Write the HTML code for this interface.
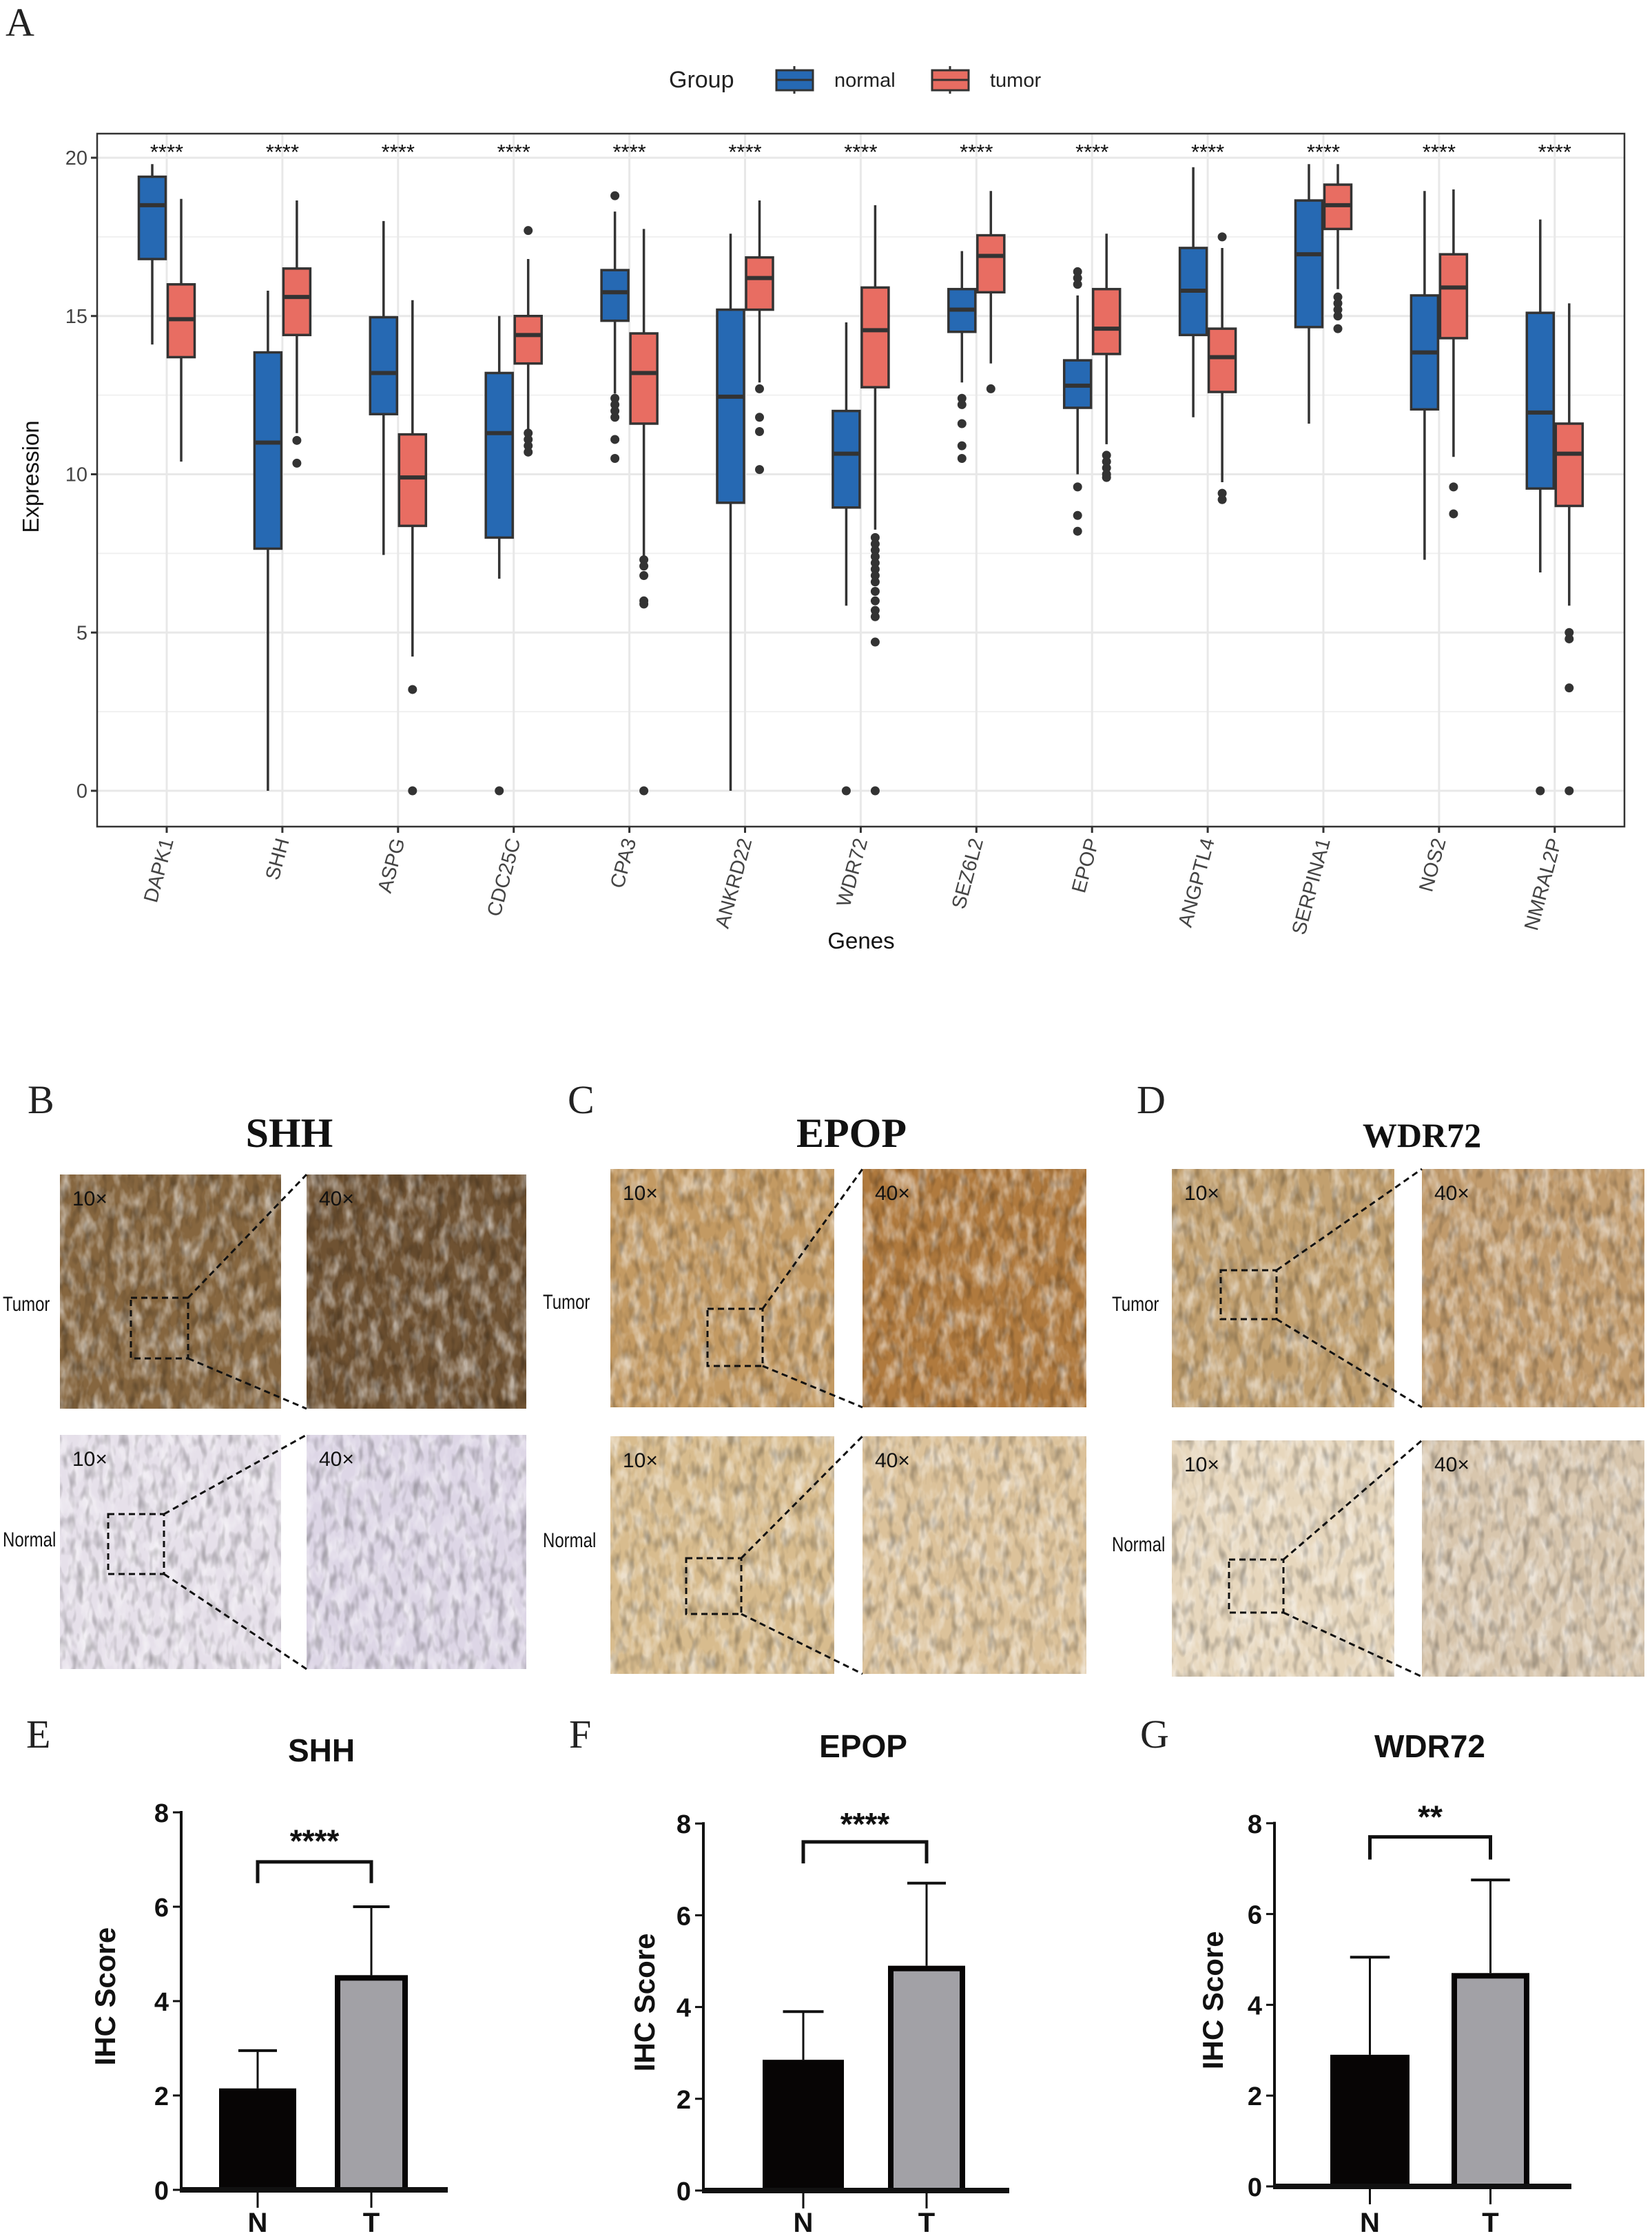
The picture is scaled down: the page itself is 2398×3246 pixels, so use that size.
<!DOCTYPE html>
<html><head><meta charset="utf-8"><style>
html,body{margin:0;padding:0;background:#fff;}
svg{display:block;}
text{font-family:"Liberation Sans",Arial,sans-serif;}
.serif{font-family:"Liberation Serif",serif;}
.cond{font-family:"Liberation Sans Narrow","Liberation Sans",sans-serif;}
</style></head><body>
<svg id="fig" width="2398" height="3246" viewBox="0 0 2398 3246" xmlns="http://www.w3.org/2000/svg">
<defs>
<filter id="tex" x="0" y="0" width="100%" height="100%">
<feTurbulence type="fractalNoise" baseFrequency="0.06 0.03" numOctaves="3" seed="3" result="n"/>
<feColorMatrix in="n" type="matrix" values="0 0 0 0 0  0 0 0 0 0  0 0 0 0 0  0 0 0 -2.2 1.3" result="a"/>
<feFlood flood-color="#ffffff"/>
<feComposite in2="a" operator="in"/>
</filter>
<filter id="tex2" x="0" y="0" width="100%" height="100%">
<feTurbulence type="fractalNoise" baseFrequency="0.09 0.04" numOctaves="2" seed="8" result="n"/>
<feColorMatrix in="n" type="matrix" values="0 0 0 0 0  0 0 0 0 0  0 0 0 0 0  0 0 0 2.6 -1.2" result="a"/>
<feFlood flood-color="#000000"/>
<feComposite in2="a" operator="in"/>
</filter>
</defs>
</svg>
<script>
// ===== Panel A data =====
const genes = ["DAPK1","SHH","ASPG","CDC25C","CPA3","ANKRD22","WDR72","SEZ6L2","EPOP","ANGPTL4","SERPINA1","NOS2","NMRAL2P"];
// [low whisker, Q1, median, Q3, high whisker]
const normalStats = [
 [14.1,16.8,18.5,19.4,19.8],[0,7.65,11.0,13.85,15.8],[7.45,11.9,13.2,14.96,18.0],[6.7,8.0,11.3,13.2,15.0],
 [12.55,14.85,15.75,16.45,18.3],[0,9.1,12.45,15.2,17.6],[5.85,8.95,10.65,12.0,14.8],[12.9,14.5,15.2,15.85,17.05],
 [10.0,12.1,12.8,13.6,15.65],[11.8,14.4,15.8,17.15,19.7],[11.6,14.65,16.95,18.65,19.8],[7.3,12.05,13.85,15.65,18.95],
 [6.9,9.55,11.95,15.1,18.05]];
const tumorStats = [
 [10.4,13.7,14.9,16.0,18.7],[11.3,14.4,15.6,16.5,18.65],[4.24,8.37,9.9,11.26,15.5],[11.4,13.5,14.4,15.0,16.8],
 [7.4,11.6,13.2,14.45,17.75],[12.9,15.2,16.2,16.85,18.65],[8.25,12.75,14.55,15.9,18.5],[13.5,15.75,16.9,17.55,18.95],
 [10.95,13.8,14.6,15.85,17.6],[9.75,12.6,13.7,14.6,17.15],[15.85,17.75,18.5,19.15,19.8],[10.55,14.3,15.9,16.95,19.0],
 [5.85,9.0,10.65,11.6,15.4]];
const normalOutliers = [[],[],[],[0],[18.8,12.4,12.2,12.0,11.8,11.1,10.5],[],[0],[12.4,12.2,11.6,10.9,10.5],
 [16.4,16.2,16.0,9.6,8.7,8.2],[],[],[],[0]];
const tumorOutliers = [[],[11.07,10.35],[3.2,0],[17.7,11.3,11.1,10.9,10.7],[7.3,7.1,6.8,6.0,5.9,0],[12.7,11.8,11.35,10.15],
 [8.0,7.8,7.6,7.4,7.2,7.0,6.8,6.6,6.3,6.0,5.7,5.5,4.7,0],[12.7],[10.6,10.4,10.2,10.0,9.9],[17.5,9.4,9.2],
 [15.6,15.4,15.2,15.0,14.6],[9.6,8.75],[5.0,4.8,3.25,0]];
const sigLabels = ["****","****","****","****","****","****","****","****","****","****","****","****","****"];
const yTicksA = [0,5,10,15,20];

// ===== Panels E-G data =====
const ihcGenes = ["SHH","EPOP","WDR72"];
const ihcGroups = ["N","T"];
const ihcMeans = [[2.15,4.55],[2.85,4.9],[2.9,4.7]];
const ihcErr = [[2.95,6.0],[3.9,6.7],[5.05,6.75]];
const ihcSig = ["****","****","**"];
const ihcTicks = [0,2,4,6,8];

const NS="http://www.w3.org/2000/svg";
const svg=document.getElementById('fig');
function el(tag,attrs,parent,txt){const e=document.createElementNS(NS,tag);for(const k in attrs)e.setAttribute(k,attrs[k]);if(txt!==undefined)e.textContent=txt;(parent||svg).appendChild(e);return e;}

// ---------- Panel A ----------
const A={l:141,r:2358,t:194,b:1200};
const yA=v=>1148-(v)*45.95;
const xG=i=>242+i*167.9;
const gA=el('g',{});


let t=el('text',{x:8,y:52,'font-size':58,class:'serif',fill:'#222'},gA,'A');

const lg=el('g',{},gA);

el('text',{x:971,y:127,'font-size':34,fill:'#222'},lg,'Group');
[[1127,'#2669B3','normal',1211],[1353,'#E86D62','tumor',1437]].forEach(([x,c,l,tx])=>{
  const it=el('g',{},lg);
  
  el('line',{x1:x+26,x2:x+26,y1:96,y2:136,stroke:'#333','stroke-width':3},it);
  el('rect',{x:x,y:102,width:53,height:29,fill:c,stroke:'#333','stroke-width':3},it);
  el('line',{x1:x,x2:x+53,y1:116,y2:116,stroke:'#333','stroke-width':3},it);
  el('text',{x:tx,y:126,'font-size':29,fill:'#222'},it,l);
});
el('rect',{x:A.l,y:A.t,width:A.r-A.l,height:A.b-A.t,fill:'#fff'},gA);
for(let v=2.5;v<=20;v+=5){el('line',{x1:A.l,x2:A.r,y1:yA(v),y2:yA(v),stroke:'#f0f0f0','stroke-width':2},gA);}
yTicksA.forEach(v=>{el('line',{x1:A.l,x2:A.r,y1:yA(v),y2:yA(v),stroke:'#e8e8e8','stroke-width':3},gA);});
genes.forEach((g,i)=>{el('line',{x1:xG(i),x2:xG(i),y1:A.t,y2:A.b,stroke:'#e8e8e8','stroke-width':3},gA);});
function drawBox(cx,s,outs,color,name){
  const g=el('g',{},gA);
  
  const w=39;
  el('line',{x1:cx,x2:cx,y1:yA(s[0]),y2:yA(s[4]),stroke:'#333','stroke-width':3.5},g);
  el('rect',{x:cx-w/2,y:yA(s[3]),width:w,height:yA(s[1])-yA(s[3]),fill:color,stroke:'#333','stroke-width':3.5},g);
  el('line',{x1:cx-w/2,x2:cx+w/2,y1:yA(s[2]),y2:yA(s[2]),stroke:'#333','stroke-width':6},g);
  outs.forEach(o=>{const c=el('circle',{cx:cx,cy:yA(o),r:6.5,fill:'#333'},g);
    });
}
genes.forEach((gname,i)=>{
  drawBox(xG(i)-21,normalStats[i],normalOutliers[i],'#2669B3','box-normal-'+gname.toLowerCase());
  drawBox(xG(i)+21,tumorStats[i],tumorOutliers[i],'#E86D62','box-tumor-'+gname.toLowerCase());
  const s=el('text',{x:xG(i),y:yA(20)+2,'font-size':31,'text-anchor':'middle',fill:'#111'},gA,sigLabels[i]);
  
  el('line',{x1:xG(i),x2:xG(i),y1:A.b,y2:A.b+9,stroke:'#333','stroke-width':3},gA);
  const lab=el('text',{x:0,y:0,'font-size':29,'text-anchor':'end',fill:'#444',transform:`translate(${xG(i)+10},${A.b+20}) rotate(-75)`},gA,gname);
  
});
el('rect',{x:A.l,y:A.t,width:A.r-A.l,height:A.b-A.t,fill:'none',stroke:'#333','stroke-width':2.5},gA);
yTicksA.forEach(v=>{
  el('line',{x1:A.l-9,x2:A.l,y1:yA(v),y2:yA(v),stroke:'#333','stroke-width':3},gA);
  const tt=el('text',{x:A.l-14,y:yA(v)+10,'font-size':29,'text-anchor':'end',fill:'#444'},gA,v);
  
});
t=el('text',{x:1250,y:1377,'font-size':33,'text-anchor':'middle',fill:'#111'},gA,'Genes');

t=el('text',{x:0,y:0,'font-size':33,'text-anchor':'middle',fill:'#111',transform:'translate(56,692) rotate(-90)'},gA,'Expression');


// ---------- Panels B-D (IHC images) ----------
const photoPanels=[
 {lab:'B',lx:40,title:'SHH',tx:420,ty:1665,
  imgs:[[87,1705,321,340,'#86663f','10×'],[445,1705,319,340,'#6f5232','40×'],[87,2083,321,340,'#e6e0ea','10×'],[445,2083,319,340,'#ddd6e6','40×']],
  rows:[1903,2245],boxes:[[190,1884,83,88],[157,2198,81,87]]},
 {lab:'C',lx:824,title:'EPOP',tx:1236,ty:1665,
  imgs:[[886,1697,325,346,'#c39a63','10×'],[1252,1697,325,346,'#b07a3e','40×'],[886,2085,325,345,'#d8bc8e','10×'],[1252,2085,325,345,'#dcc29a','40×']],
  rows:[1900,2246],boxes:[[1027,1900,80,83],[996,2262,80,81]]},
 {lab:'D',lx:1650,title:'WDR72',tx:2064,ty:1665,
  imgs:[[1701,1697,323,346,'#c2a06f','10×'],[2064,1697,323,346,'#c19b6c','40×'],[1701,2091,323,343,'#e7d7bd','10×'],[2064,2091,323,343,'#d8c6ad','40×']],
  rows:[1903,2252],boxes:[[1772,1844,81,71],[1784,2264,79,77]]}
];
photoPanels.forEach(p=>{
  const g=el('g',{});
  
  el('text',{x:p.lx,y:1616,'font-size':58,class:'serif',fill:'#222'},g,p.lab);
  const tt=el('text',{x:p.tx,y:p.ty,'font-size':p.title==='WDR72'?50:60,'font-weight':'bold','text-anchor':'middle',class:'serif',fill:'#111'},g,p.title);
  
  p.imgs.forEach((im,k)=>{
    const r=el('rect',{x:im[0],y:im[1],width:im[2],height:im[3],fill:im[4]},g);
    
    
    el('rect',{x:im[0],y:im[1],width:im[2],height:im[3],filter:'url(#tex)',opacity:0.55},g);
    el('rect',{x:im[0],y:im[1],width:im[2],height:im[3],filter:'url(#tex2)',opacity:0.25},g);
    el('text',{x:im[0]+18,y:im[1]+45,'font-size':30,class:'cond',fill:'#111'},g,im[5]);
  });
  el('text',{x:p.lx-36,y:p.rows[0],'font-size':30,class:'cond',fill:'#111',transform:`translate(${p.lx-36},${p.rows[0]}) scale(0.8,1) translate(${-(p.lx-36)},${-p.rows[0]})`},g,'Tumor');
  el('text',{x:p.lx-36,y:p.rows[1],'font-size':30,class:'cond',fill:'#111',transform:`translate(${p.lx-36},${p.rows[1]}) scale(0.8,1) translate(${-(p.lx-36)},${-p.rows[1]})`},g,'Normal');
  p.boxes.forEach((b,k)=>{
    const im=p.imgs[k*2+1];
    el('rect',{x:b[0],y:b[1],width:b[2],height:b[3],fill:'none',stroke:'#111','stroke-width':3,'stroke-dasharray':'9 6'},g);
    el('line',{x1:b[0]+b[2],y1:b[1],x2:im[0],y2:im[1],stroke:'#111','stroke-width':3,'stroke-dasharray':'9 6'},g);
    el('line',{x1:b[0]+b[2],y1:b[1]+b[3],x2:im[0],y2:im[1]+im[3],stroke:'#111','stroke-width':3,'stroke-dasharray':'9 6'},g);
  });
});

// ---------- Panels E-G (bar charts) ----------
const barPanels=[
 {lab:'E',lx:38,ty:2557,ax:263,xend:650,y0:3179,ppu:68.5,bars:[[318,430],[486,592]],ylab:153,br:[6.5,6.95],st:7.45},
 {lab:'F',lx:826,ty:2551,ax:1021,xend:1465,y0:3180,ppu:66.6,bars:[[1107,1225],[1289,1401]],ylab:936,br:[7.13,7.6],st:8.05},
 {lab:'G',lx:1655,ty:2551,ax:1850,xend:2281,y0:3174,ppu:65.9,bars:[[1931,2046],[2107,2220]],ylab:1761,br:[7.2,7.7],st:8.2}
];
barPanels.forEach((p,i)=>{
  const g=el('g',{});
  
  const y=v=>p.y0-v*p.ppu;
  el('text',{x:p.lx,y:2537,'font-size':58,class:'serif',fill:'#222'},g,p.lab);
  const tt=el('text',{x:(p.ax+p.xend)/2+10,y:p.ty,'font-size':46,'font-weight':'bold','text-anchor':'middle',fill:'#111'},g,ihcGenes[i]);
  
  ihcGroups.forEach((grp,j)=>{
    const b=p.bars[j];const cx=(b[0]+b[1])/2;const hw=(b[1]-b[0])/4;
    el('line',{x1:cx,x2:cx,y1:y(ihcMeans[i][j]),y2:y(ihcErr[i][j]),stroke:'#111','stroke-width':3},g);
    el('line',{x1:cx-hw,x2:cx+hw,y1:y(ihcErr[i][j]),y2:y(ihcErr[i][j]),stroke:'#111','stroke-width':4},g);
    const r=el('rect',{x:b[0]+(j?4:0),y:y(ihcMeans[i][j])+(j?4:0),width:b[1]-b[0]-(j?8:0),height:y(0)-y(ihcMeans[i][j])-(j?4:0),fill:j?'#a2a1a6':'#070505',stroke:'#070505','stroke-width':j?8:0},g);
    
    el('line',{x1:cx,x2:cx,y1:y(0),y2:y(0)+26,stroke:'#111','stroke-width':3},g);
    const l=el('text',{x:cx,y:3240,'font-size':40,'font-weight':'bold','text-anchor':'middle',fill:'#111'},g,grp);
    
  });
  el('line',{x1:p.ax,x2:p.ax,y1:y(8)-2,y2:y(0),stroke:'#111','stroke-width':4},g);
  el('line',{x1:p.ax-2,x2:p.xend,y1:y(0),y2:y(0),stroke:'#111','stroke-width':8},g);
  ihcTicks.forEach(v=>{
    el('line',{x1:p.ax-12,x2:p.ax,y1:y(v),y2:y(v),stroke:'#111','stroke-width':3},g);
    const tk=el('text',{x:p.ax-18,y:y(v)+14,'font-size':38,'font-weight':'bold','text-anchor':'end',fill:'#111'},g,v);
    
  });
  const yl=el('text',{x:0,y:0,'font-size':42,'font-weight':'bold','text-anchor':'middle',fill:'#111',transform:`translate(${p.ylab+14},${y(4.1)}) rotate(-90)`},g,'IHC Score');
  
  const c0=(p.bars[0][0]+p.bars[0][1])/2,c1=(p.bars[1][0]+p.bars[1][1])/2;
  const br=el('path',{d:`M${c0},${y(p.br[0])} V${y(p.br[1])} H${c1} V${y(p.br[0])}`,fill:'none',stroke:'#111','stroke-width':5},g);
  
  const st=el('text',{x:(c0+c1)/2,y:y(p.st)+20,'font-size':46,'font-weight':'bold','text-anchor':'middle',fill:'#111'},g,ihcSig[i]);
  
});
</script>
</body></html>
